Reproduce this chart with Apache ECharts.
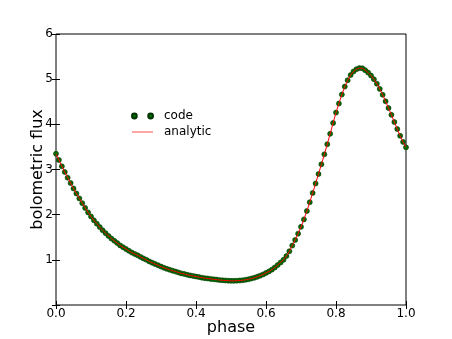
<!DOCTYPE html>
<html>
<meta charset="utf-8">
<head>
	<title>bolometric flux</title>
	<script src="https://cdn.jsdelivr.net/npm/echarts@6/dist/echarts.min.js"></script>
	<style type="text/css">
		html, body { margin: 0; padding: 0; background: #fff; }
		#main { width: 452px; height: 339px; }
	</style>
</head>
<body>
<div id="main"></div>
<script type="text/javascript">
// phase samples (120 steps over one period)
var phase = [
	0.0000, 0.0083, 0.0167, 0.0250, 0.0333, 0.0417, 0.0500, 0.0583, 0.0667, 0.0750, 0.0833, 0.0917,
	0.1000, 0.1083, 0.1167, 0.1250, 0.1333, 0.1417, 0.1500, 0.1583, 0.1667, 0.1750, 0.1833, 0.1917,
	0.2000, 0.2083, 0.2167, 0.2250, 0.2333, 0.2417, 0.2500, 0.2583, 0.2667, 0.2750, 0.2833, 0.2917,
	0.3000, 0.3083, 0.3167, 0.3250, 0.3333, 0.3417, 0.3500, 0.3583, 0.3667, 0.3750, 0.3833, 0.3917,
	0.4000, 0.4083, 0.4167, 0.4250, 0.4333, 0.4417, 0.4500, 0.4583, 0.4667, 0.4750, 0.4833, 0.4917,
	0.5000, 0.5083, 0.5167, 0.5250, 0.5333, 0.5417, 0.5500, 0.5583, 0.5667, 0.5750, 0.5833, 0.5917,
	0.6000, 0.6083, 0.6167, 0.6250, 0.6333, 0.6417, 0.6500, 0.6583, 0.6667, 0.6750, 0.6833, 0.6917,
	0.7000, 0.7083, 0.7167, 0.7250, 0.7333, 0.7417, 0.7500, 0.7583, 0.7667, 0.7750, 0.7833, 0.7917,
	0.8000, 0.8083, 0.8167, 0.8250, 0.8333, 0.8417, 0.8500, 0.8583, 0.8667, 0.8750, 0.8833, 0.8917,
	0.9000, 0.9083, 0.9167, 0.9250, 0.9333, 0.9417, 0.9500, 0.9583, 0.9667, 0.9750, 0.9833, 0.9917,
	1.0000
];
// numerical result (green dots)
var codeFlux = [
	3.35, 3.21, 3.07, 2.945, 2.82, 2.70, 2.58, 2.47, 2.36, 2.255, 2.15, 2.05,
	1.96, 1.875, 1.80, 1.725, 1.655, 1.59, 1.53, 1.47, 1.42, 1.37, 1.32, 1.28,
	1.24, 1.20, 1.16, 1.13, 1.10, 1.065, 1.03, 1.00, 0.965, 0.935, 0.905, 0.88,
	0.85, 0.825, 0.80, 0.78, 0.76, 0.74, 0.72, 0.70, 0.687, 0.67, 0.655, 0.643,
	0.63, 0.618, 0.605, 0.595, 0.587, 0.578, 0.57, 0.562, 0.553, 0.548, 0.543, 0.539,
	0.535, 0.535, 0.538, 0.543, 0.548, 0.557, 0.57, 0.587, 0.603, 0.625, 0.65, 0.677,
	0.71, 0.743, 0.783, 0.83, 0.883, 0.942, 1.00, 1.083, 1.19, 1.315, 1.44, 1.58,
	1.73, 1.895, 2.08, 2.275, 2.48, 2.69, 2.90, 3.115, 3.335, 3.56, 3.79, 4.03,
	4.26, 4.46, 4.66, 4.835, 4.975, 5.09, 5.17, 5.22, 5.245, 5.24, 5.20, 5.145,
	5.08, 5.00, 4.90, 4.785, 4.655, 4.51, 4.36, 4.21, 4.05, 3.895, 3.745, 3.61,
	3.49
];
// analytic curve (red line), same as the code to plotting accuracy
var analyticFlux = codeFlux.slice();

var xTicks = [0, 1, 0.2];   // min, max, step
var yTicks = [0, 6, 1];

var font = 'DejaVu Sans';
var myChart = echarts.init(document.getElementById('main'), null, {renderer: 'canvas'});

var tickStyle = {show: true, inside: true, length: 4, lineStyle: {color: '#000', width: 1}};

var option = {
	animation: false,
	backgroundColor: '#fff',
	grid: {left: 56, right: 46, top: 34, bottom: 34, outerBoundsMode: 'none', containLabel: false,
		show: true, borderColor: '#000', borderWidth: 1, backgroundColor: 'transparent'},
	legend: {
		orient: 'vertical',
		left: 126,
		top: 105,
		itemWidth: 21,
		itemHeight: 5,
		itemGap: 4,
		symbolKeepAspect: true,
		textStyle: {fontFamily: font, fontSize: 12, color: '#000', padding: [0, 0, 0, 6]},
		data: [
			{name: 'code', icon: 'path://M0,5a5,5 0 1,0 10,0a5,5 0 1,0 -10,0M34,5a5,5 0 1,0 10,0a5,5 0 1,0 -10,0'},
			{name: 'analytic', icon: 'path://M0,0H44V2.6H0Z', itemStyle: {color: '#ff7070'}}
		]
	},
	xAxis: [{
		type: 'value', min: xTicks[0], max: xTicks[1], interval: xTicks[2],
		name: 'phase', nameLocation: 'middle', nameGap: 15, nameMoveOverlap: false,
		nameTextStyle: {fontFamily: font, fontSize: 16, color: '#000'},
		axisLine: {show: false},
		axisTick: tickStyle,
		splitLine: {show: false},
		axisLabel: {fontFamily: font, fontSize: 12, color: '#000', margin: 3,
			formatter: function (v) { return v.toFixed(1); }}
	}, {
		type: 'value', position: 'top', min: xTicks[0], max: xTicks[1], interval: xTicks[2],
		axisLine: {show: false}, axisTick: tickStyle, axisLabel: {show: false}, splitLine: {show: false}
	}],
	yAxis: [{
		type: 'value', min: yTicks[0], max: yTicks[1], interval: yTicks[2],
		name: 'bolometric flux', nameLocation: 'middle', nameGap: 10, nameRotate: 90, nameMoveOverlap: false,
		nameTextStyle: {fontFamily: font, fontSize: 16, color: '#000'},
		axisLine: {show: false},
		axisTick: tickStyle,
		splitLine: {show: false},
		axisLabel: {fontFamily: font, fontSize: 12, color: '#000', margin: 3,
			formatter: function (v) { return v === 0 ? '' : String(v); }}
	}, {
		type: 'value', position: 'right', min: yTicks[0], max: yTicks[1], interval: yTicks[2],
		axisLine: {show: false}, axisTick: tickStyle, axisLabel: {show: false}, splitLine: {show: false}
	}],
	series: [{
		name: 'code',
		type: 'scatter',
		symbolSize: 5,
		itemStyle: {color: '#007000', borderColor: '#003300', borderWidth: 0.6, opacity: 1},
		data: phase.map(function (p, i) { return [p, codeFlux[i]]; }),
		z: 2
	}, {
		name: 'analytic',
		type: 'line',
		symbol: 'none',
		showSymbol: false,
		color: '#ff0000',
		lineStyle: {color: '#ff0000', width: 1},
		data: phase.map(function (p, i) { return [p, analyticFlux[i]]; }),
		z: 3
	}]
};
myChart.setOption(option);
</script>
</body>
</html>
